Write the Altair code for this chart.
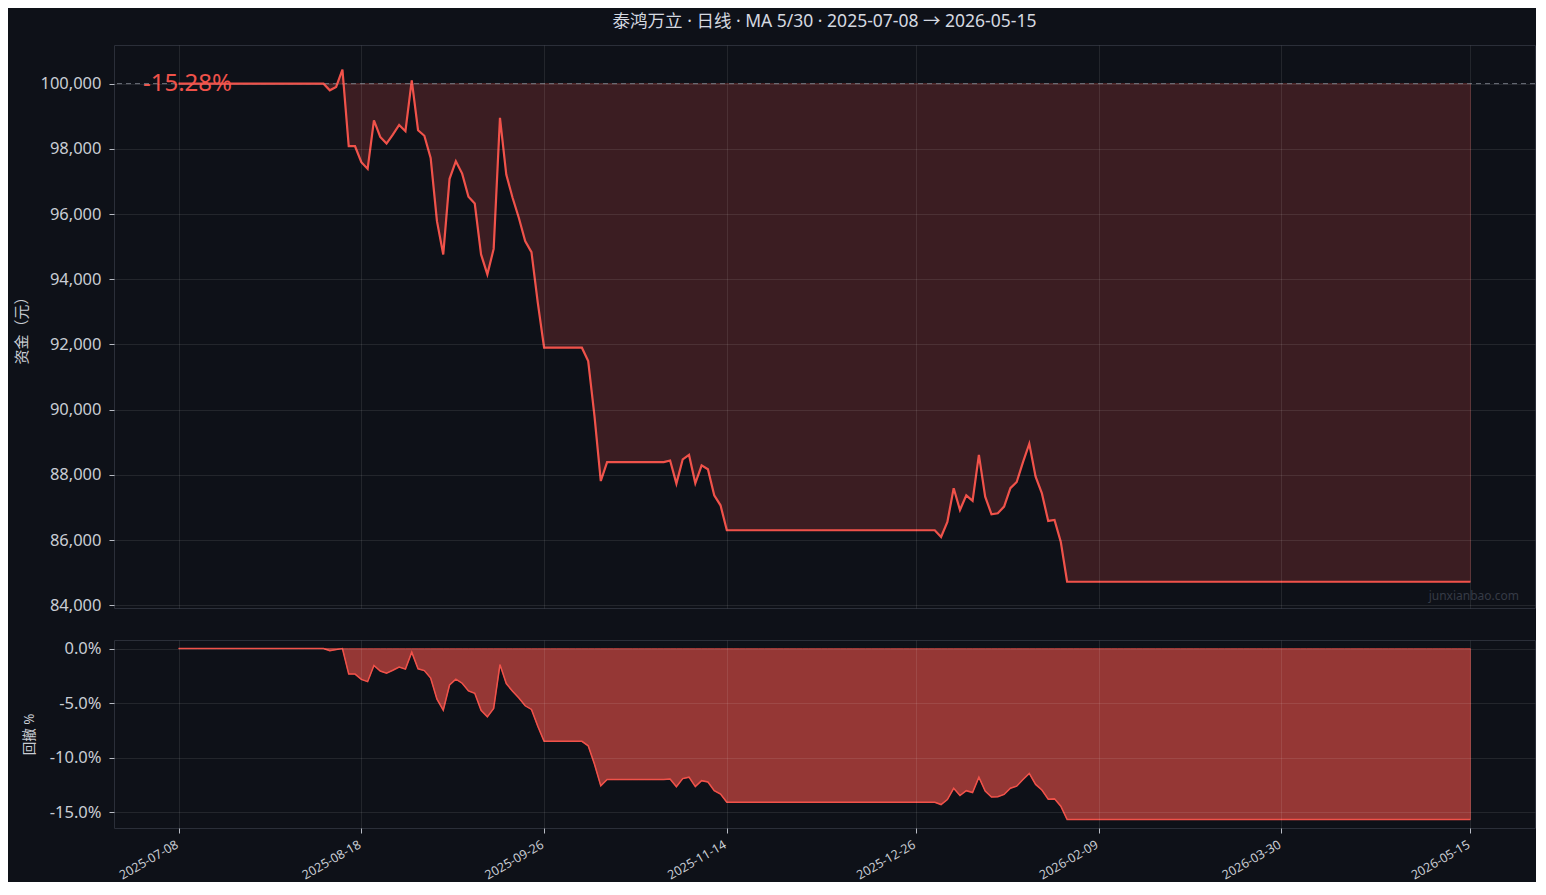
import altair as alt
import pandas as pd

# ---------------- data ----------------
tick_idx = [0, 29, 58, 87, 117, 146, 175, 205]
tick_labels = ['2025-07-08', '2025-08-18', '2025-09-26', '2025-11-14',
               '2025-12-26', '2026-02-09', '2026-03-30', '2026-05-15']

seg_start = [100000] * 24                     # idx 0..23
seg_a = [99795, 99900, 100430, 98080, 98080, 97590, 97385, 98875, 98365, 98160,
         98437, 98733, 98540, 100100, 98570, 98400, 97720, 95780, 94760, 97080,
         97620, 97240, 96530, 96320, 94760, 94150, 94930, 98950, 97210, 96500,
         95880, 95170, 94830, 93280]          # idx 24..57
seg_b = [91900] * 7                           # idx 58..64
seg_c = [91490, 89800, 87810]                 # idx 65..67
seg_d = [88390] * 10                          # idx 68..77
seg_e = [88440, 87730, 88475, 88610, 87740, 88290, 88170, 87370, 87065]  # 78..86
seg_f = [86300] * 34                          # idx 87..120
seg_g = [86095, 86555, 87590, 86920, 87370, 87200, 88610, 87330, 86790, 86820,
         87025, 87590, 87780, 88390, 88955, 87945, 87430, 86585, 86615, 85940]  # 121..140
seg_h = [84720] * 65                          # idx 141..205

equity = seg_start + seg_a + seg_b + seg_c + seg_d + seg_e + seg_f + seg_g + seg_h
initial = 100000

title_text = '泰鸿万立 · 日线 · MA 5/30 · 2025-07-08 → 2026-05-15'

df = pd.DataFrame({'i': list(range(len(equity))), 'equity': equity})
df['base'] = initial
df['dd'] = (df['equity'] / df['equity'].cummax() - 1) * 100
df['zero'] = 0.0
base_df = pd.DataFrame({'base': [initial]})
ret_text = f"{(equity[-1] / initial - 1) * 100:.2f}%"

# ---------------- style ----------------
BG = '#0e1118'
RED = '#f0524a'
LBL = '#c9cdd4'
FONT = 'Noto Sans, Noto Sans CJK SC, sans-serif'
W = 1421
H1 = 563
H2 = 188

label_expr = "[" + ",".join(f"'{t}'" for t in tick_labels) + "][indexof([" + \
    ",".join(str(v) for v in tick_idx) + "], datum.value)]"

xscale = alt.Scale(domain=[-10.25, 215.25], nice=False, zero=False)

x_top = alt.X('i:Q', scale=xscale,
              axis=alt.Axis(values=tick_idx, labels=False, ticks=False, domain=False,
                            grid=True, title=None, zindex=1))
x_bot = alt.X('i:Q', scale=xscale,
              axis=alt.Axis(values=tick_idx, labelExpr=label_expr, labelAngle=330,
                            labelAlign='right', labelBaseline='top', labelPadding=5,
                            labelOffset=-5,
                            labelFontSize=12.5, labelColor=LBL, labelFont=FONT,
                            tickSize=5, tickColor='#b8bcc4', domain=False, grid=True,
                            title=None, zindex=1))

ytop_scale = alt.Scale(domain=[83915, 101185], nice=False, zero=False)
y_top_axis = alt.Axis(values=list(range(84000, 100001, 2000)), format=',d',
                      labelFontSize=16.5, labelColor=LBL, labelFont=FONT, labelPadding=8,
                      tickSize=5, tickColor='#b8bcc4', domain=False, grid=True,
                      title='资金（元）', titleFontSize=15, titleColor=LBL, titleFont=FONT,
                      titleFontWeight='normal', titleX=-93, titleBaseline='middle',
                      zindex=1)

top_area = alt.Chart(df).mark_area(color=RED, fillOpacity=0.2, stroke=RED,
                                   strokeOpacity=0.25, strokeWidth=1).encode(
    x=x_top,
    y=alt.Y('equity:Q', scale=ytop_scale, axis=y_top_axis),
    y2='base:Q')
top_rule = alt.Chart(base_df).mark_rule(color='#6f747d', strokeDash=[5, 4],
                                        strokeWidth=1).encode(
    y=alt.Y('base:Q', scale=ytop_scale))
top_line = alt.Chart(df).mark_line(color=RED, strokeWidth=2.2).encode(
    x=alt.X('i:Q', scale=xscale), y=alt.Y('equity:Q', scale=ytop_scale))
ret_label = alt.Chart(pd.DataFrame({'t': [ret_text]})).mark_text(
    color=RED, fontSize=24, font=FONT, align='left', baseline='middle').encode(
    text='t:N', x=alt.value(29), y=alt.value(39))
watermark = alt.Chart(pd.DataFrame({'t': ['junxianbao.com']})).mark_text(
    color='#363b46', fontSize=12, font=FONT, align='right', baseline='middle').encode(
    text='t:N', x=alt.value(1405), y=alt.value(551))

top = alt.layer(top_area, top_rule, top_line, ret_label, watermark).properties(
    width=W, height=H1,
    title=alt.TitleParams(title_text, fontSize=17.5, color='#d5d9e0', font=FONT,
                          fontWeight='normal', anchor='middle', offset=15))

ybot_scale = alt.Scale(domain=[-16.42, 0.78], nice=False, zero=False)
y_bot_axis = alt.Axis(values=[0, -5, -10, -15],
                      labelExpr="(datum.value < 0 ? '-' : '') + format(abs(datum.value), '.1f') + '%'",
                      labelFontSize=16.5, labelColor=LBL, labelFont=FONT, labelPadding=8,
                      tickSize=5, tickColor='#b8bcc4', domain=False, grid=True,
                      title='回撤 %', titleFontSize=13.5, titleColor=LBL, titleFont=FONT,
                      titleFontWeight='normal', titleX=-85, titleBaseline='middle',
                      zindex=1)

bot_area = alt.Chart(df).mark_area(color=RED, fillOpacity=0.6, stroke=RED,
                                   strokeOpacity=0.5, strokeWidth=1).encode(
    x=x_bot,
    y=alt.Y('dd:Q', scale=ybot_scale, axis=y_bot_axis),
    y2='zero:Q')
bot_line = alt.Chart(df).mark_line(color=RED, strokeWidth=1.5).encode(
    x=alt.X('i:Q', scale=xscale), y=alt.Y('dd:Q', scale=ybot_scale))

bottom = alt.layer(bot_area, bot_line).properties(width=W, height=H2)

chart = alt.vconcat(top, bottom, spacing=24).properties(
    background=BG,
    padding={'left': 5, 'top': 4, 'right': 0, 'bottom': 0}
).configure_view(
    stroke='#2b2f39', strokeWidth=1
).configure_axis(
    gridColor='#ffffff', gridOpacity=0.09, gridWidth=1
)

chart.save('out.html', embed_options={'renderer': 'svg', 'actions': False})
